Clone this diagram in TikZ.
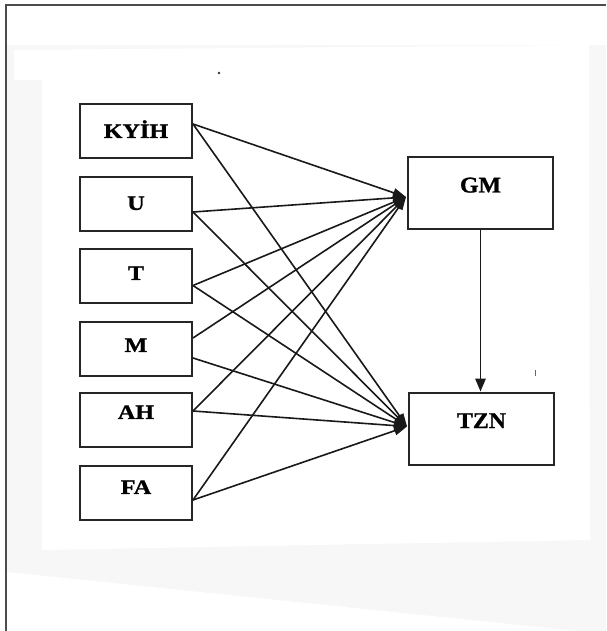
\documentclass[tikz,border=0pt]{standalone}
\usepackage{fontspec}
\setmainfont{Liberation Serif}
\newfontfamily\factorfont[FakeStretch=1.18, FakeBold=1.2]{Liberation Serif}
\newfontfamily\outcomefont[FakeStretch=1.06, FakeBold=1.2]{Liberation Serif}
\usetikzlibrary{arrows.meta,calc}

\tikzset{
  factor/.style={draw=black!85, line width=2pt, fill=white,
    minimum width=112pt, minimum height=54pt, inner sep=0pt,
    font=\factorfont\bfseries\fontsize{20.5}{20.5}\selectfont,
    text height=13.8pt, text depth=0pt},
  outcome/.style={draw=black!85, line width=2pt, fill=white,
    minimum width=145pt, minimum height=72pt, inner sep=0pt,
    font=\outcomefont\bfseries\fontsize{22.5}{22.5}\selectfont,
    text height=15pt, text depth=16pt},
  link/.style={line width=1.6pt, draw=black!90,
    -{Triangle[length=13pt,width=9pt]}},
  causal/.style={line width=1.6pt, draw=black!90,
    -{Triangle[length=13pt,width=10.5pt]}},
  paper/.style={fill=white, draw=none},
  margin/.style={fill=black!3, draw=none},
}

\begin{document}
\begin{tikzpicture}[x=1pt, y=-1pt]
  \useasboundingbox (0,0) rectangle (606,631);

  % scanned sheet and its shaded margins
  \fill[white] (0,0) rectangle (606,631);
  \fill[margin] (7,45) rectangle (606,631);
  \fill[paper] (14,50) -- (589,45) -- (590,540) -- (42,550) -- (42,80) -- (14,80) -- cycle;
  \fill[paper] (7,572) -- (606,634) -- (7,634) -- cycle;
  \draw[black!70, line width=1.8pt] (6,631) -- (6,5) -- (606,5);

  % specks on the sheet
  \fill[black!80] (219,73) circle (1.3pt);
  \draw[black!60, line width=1pt] (535,370) -- (535,376);

  % factor boxes
  \node[factor]                  (kyih) at (136,131)   {KYİH};
  \node[factor, text depth=2pt]  (u)    at (136,204)   {U};
  \node[factor, text depth=5pt]  (t)    at (136,275.5) {T};
  \node[factor, text depth=8pt]  (m)    at (136,349)   {M};
  \node[factor, text depth=16pt] (ah)   at (136,420)   {AH};
  \node[factor, text depth=12pt] (fa)   at (136,493)   {FA};

  % outcome boxes
  \node[outcome] (gm)  at (480.5,193)   {GM};
  \node[outcome] (tzn) at (481.5,428.5) {TZN};

  % where the connectors leave and meet
  \coordinate (gm-in)  at ($(gm.west)+(-1,4)$);
  \coordinate (tzn-in) at ($(tzn.west)+(-1,-2)$);
  \coordinate (kyih-o) at ($(kyih.east)+(0,-7)$);
  \coordinate (u-o)    at ($(u.east)+(0,8)$);
  \coordinate (t-o)    at ($(t.east)+(0,10)$);
  \coordinate (m-up)   at ($(m.east)+(0,-11)$);
  \coordinate (m-dn)   at ($(m.east)+(0,9)$);
  \coordinate (ah-o)   at ($(ah.east)+(0,-9)$);
  \coordinate (fa-o)   at ($(fa.east)+(0,7)$);

  % every factor feeds both outcomes
  \draw[link] (kyih-o) -- (gm-in);
  \draw[link] (kyih-o) -- (tzn-in);
  \draw[link] (u-o)    -- (gm-in);
  \draw[link] (u-o)    -- (tzn-in);
  \draw[link] (t-o)    -- (gm-in);
  \draw[link] (t-o)    -- (tzn-in);
  \draw[link] (m-up)   -- (gm-in);
  \draw[link] (m-dn)   -- (tzn-in);
  \draw[link] (ah-o)   -- (gm-in);
  \draw[link] (ah-o)   -- (tzn-in);
  \draw[link] (fa-o)   -- (gm-in);
  \draw[link] (fa-o)   -- (tzn-in);

  % GM leads to TZN
  \draw[causal] (gm.south) -- (gm.south |- tzn.north);
\end{tikzpicture}
\end{document}
